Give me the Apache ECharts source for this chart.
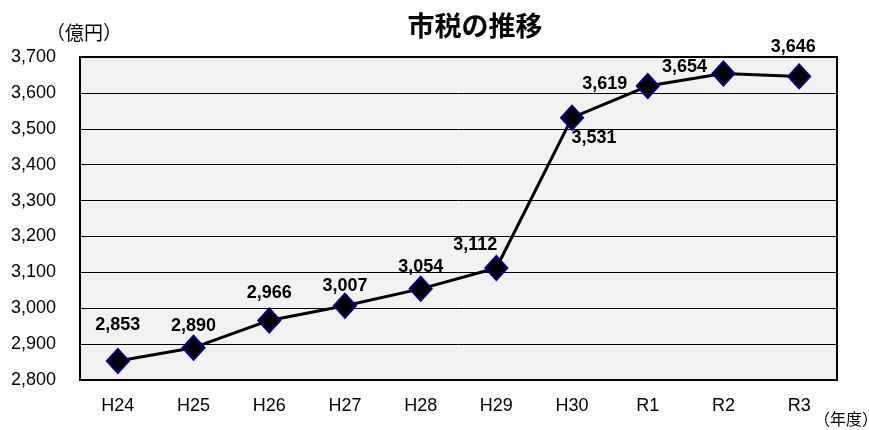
<!DOCTYPE html>
<html>
<head>
<meta charset="utf-8">
<script src="https://cdn.jsdelivr.net/npm/echarts@6/dist/echarts.min.js"></script>
<style>
  html, body { margin: 0; padding: 0; background: #fff; }
  #chart { width: 869px; height: 430px; }
</style>
</head>
<body>
<div id="chart"></div>
<script>
// 年度
const years = ['H24', 'H25', 'H26', 'H27', 'H28', 'H29', 'H30', 'R1', 'R2', 'R3'];
// 市税（億円）
const taxValues = [2853, 2890, 2966, 3007, 3054, 3112, 3531, 3619, 3654, 3646];
const yTicks = [2800, 2900, 3000, 3100, 3200, 3300, 3400, 3500, 3600, 3700];

// ラベルの位置調整
const labelOffsets = [
    [0, -36], [0, -22], [0, -27], [0, -20], [0, -22],
    [-21, -23], [22, 20], [-43, -2], [-39, -6], [-6, -29]
];

const font = '"Liberation Sans", Arial, "Noto Sans CJK JP", sans-serif';

var myChart = echarts.init(document.getElementById('chart'));

myChart.setOption({
    animation: false,
    title: {
        text: '市税の推移',
        left: 470,
        top: 7,
        textAlign: 'center',
        textStyle: {
            fontFamily: '"Noto Sans CJK JP", sans-serif',
            fontSize: 27,
            fontWeight: 'bold',
            color: '#000'
        }
    },
    graphic: [
        {
            type: 'text',
            left: 46,
            top: 23,
            style: { text: '（億円）', font: '19px "Noto Sans CJK JP", sans-serif', fill: '#000' }
        },
        {
            type: 'text',
            left: 814,
            top: 411,
            style: { text: '（年度）', font: '16px "Noto Sans CJK JP", sans-serif', fill: '#000' }
        }
    ],
    grid: {
        left: 80,
        right: 32,
        top: 57,
        bottom: 50,
        show: true,
        backgroundColor: '#f2f2f2',
        borderColor: '#000',
        borderWidth: 2
    },
    xAxis: {
        type: 'category',
        data: years,
        axisLine: { lineStyle: { color: '#000', width: 2 } },
        axisTick: { inside: true, length: 6, lineStyle: { color: '#000' } },
        axisLabel: {
            fontFamily: font,
            fontSize: 18,
            color: '#000',
            margin: 17
        }
    },
    yAxis: {
        type: 'value',
        min: yTicks[0],
        max: yTicks[yTicks.length - 1],
        interval: 100,
        axisLine: { show: true, lineStyle: { color: '#000', width: 2 } },
        axisTick: { show: false },
        splitLine: { lineStyle: { color: '#000', width: 1 } },
        axisLabel: {
            fontFamily: font,
            fontSize: 18,
            color: '#000',
            margin: 24,
            formatter: function (value) {
                return value.toLocaleString('en-US');
            }
        }
    },
    series: [
        {
            type: 'line',
            data: taxValues.map(function (v, i) {
                return {
                    value: v,
                    label: { offset: labelOffsets[i] }
                };
            }),
            symbol: 'diamond',
            symbolSize: [22, 24],
            lineStyle: { color: '#000', width: 3 },
            itemStyle: { color: '#000', borderColor: '#000080', borderWidth: 2 },
            label: {
                show: true,
                position: 'inside',
                fontFamily: font,
                fontSize: 18,
                fontWeight: 'bold',
                color: '#000',
                formatter: function (p) {
                    return p.value.toLocaleString('en-US');
                }
            },
            z: 3
        }
    ]
});
</script>
</body>
</html>
